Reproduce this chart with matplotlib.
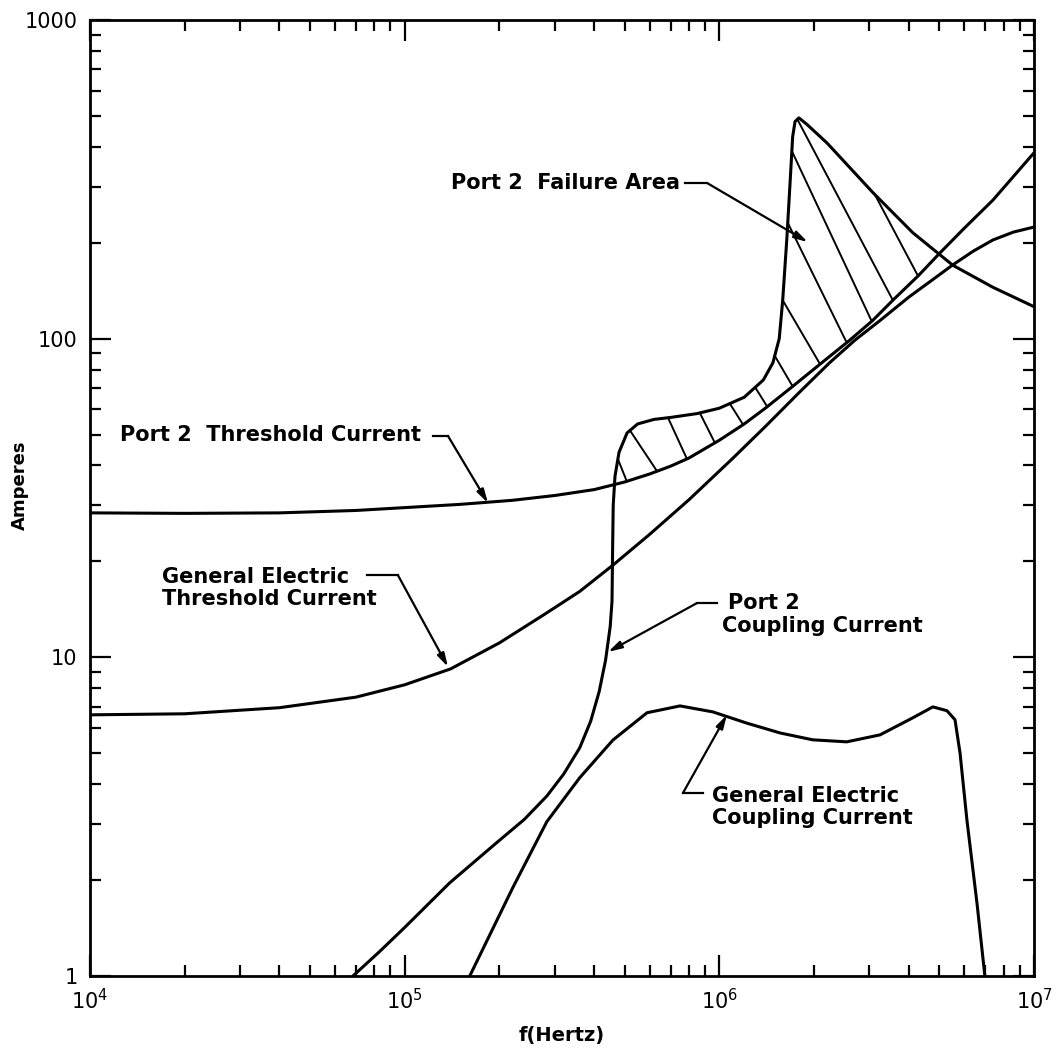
import matplotlib.pyplot as plt
import numpy as np

# Port 2 threshold current
p2_thr_f = [1e4, 2e4, 4e4, 7e4, 1e5, 1.5e5, 2.2e5, 3e5, 4e5, 5e5, 6e5, 7e5, 8e5, 1e6,
            1.2e6, 1.4e6, 1.7e6, 2.1e6, 2.6e6, 3.07e6, 3.56e6, 4.3e6, 5.03e6, 6e6, 7.4e6, 1e7]
p2_thr_a = [28.4, 28.3, 28.4, 28.9, 29.5, 30.2, 31.1, 32.2, 33.6, 35.5, 37.6, 39.8, 42.2, 48,
            54, 60.5, 70.5, 83.5, 99, 114, 132, 158, 186, 222, 272, 383]

# General Electric threshold current
ge_thr_f = [1e4, 2e4, 4e4, 7e4, 1e5, 1.4e5, 2e5, 2.8e5, 3.6e5, 4.6e5, 6e5, 8e5, 1.1e6,
            1.4e6, 1.8e6, 2.24e6, 2.7e6, 3.24e6, 4e6, 4.8e6, 5.5e6, 6.4e6, 7.4e6, 8.6e6, 1e7]
ge_thr_a = [6.6, 6.65, 6.95, 7.5, 8.2, 9.2, 11.1, 13.7, 16.1, 19.5, 24.3, 31.2, 42,
            53, 68, 84, 99, 114, 135, 154, 170, 188, 204, 216, 224]

# Port 2 coupling current
p2_cpl_f = [6.85e4, 8.3e4, 1e5, 1.39e5, 1.96e5, 2.4e5, 2.83e5, 3.2e5, 3.6e5, 3.9e5, 4.15e5,
            4.35e5, 4.5e5, 4.56e5, 4.58e5, 4.6e5, 4.66e5, 4.8e5, 5.09e5, 5.5e5, 6.2e5, 7e5,
            8.5e5, 1e6, 1.2e6, 1.38e6, 1.48e6, 1.55e6, 1.59e6, 1.64e6, 1.68e6, 1.71e6,
            1.74e6, 1.79e6, 1.9e6, 2.2e6, 3.08e6, 4.12e6, 5.52e6, 7.4e6, 1e7]
p2_cpl_a = [1.0, 1.19, 1.42, 1.96, 2.62, 3.1, 3.67, 4.3, 5.2, 6.3, 7.8,
            9.8, 12.5, 15, 22, 30, 37, 44, 50.6, 54, 55.8, 56.6,
            58.2, 60.5, 65.5, 74.2, 84, 100, 132, 208, 315, 430,
            480, 493, 470, 411, 287, 215, 170, 145, 126]

# General Electric coupling current
ge_cpl_f = [1.61e5, 2.21e5, 2.83e5, 3.6e5, 4.59e5, 5.89e5, 7.5e5, 9.55e5, 1.22e6, 1.56e6,
            1.98e6, 2.54e6, 3.24e6, 4.12e6, 4.77e6, 5.29e6, 5.61e6, 5.82e6, 6.12e6, 6.59e6, 6.98e6]
ge_cpl_a = [1.0, 1.9, 3.05, 4.19, 5.5, 6.7, 7.04, 6.74, 6.22, 5.79,
            5.51, 5.43, 5.71, 6.46, 6.99, 6.8, 6.37, 5.01, 3.09, 1.69, 1.0]

# failure-area hatch lines: start on the coupling curve, end on the threshold curve
hatch_top_f = [4.76e5, 5.2e5, 6.87e5, 8.67e5, 1.08e6, 1.30e6, 1.50e6, 1.59e6, 1.65e6, 1.70e6, 1.77e6, 3.12e6]
hatch_bot_f = [5.08e5, 6.34e5, 7.89e5, 9.68e5, 1.19e6, 1.42e6, 1.71e6, 2.09e6, 2.54e6, 3.05e6, 3.56e6, 4.28e6]

x_ticks = [1e4, 1e5, 1e6, 1e7]
x_tick_labels = ["$10^4$", "$10^5$", "$10^6$", "$10^7$"]
y_ticks = [1, 10, 100, 1000]
y_tick_labels = ["1", "10", "100", "1000"]


def on_curve(f, cf, ca):
    return 10 ** np.interp(np.log10(f), np.log10(cf), np.log10(ca))


fig = plt.figure(figsize=(10.64, 10.49), dpi=100)
ax = fig.add_axes([90 / 1064, 73 / 1049, 944 / 1064, 956 / 1049])

lw = 2.2
for cf, ca in [(p2_thr_f, p2_thr_a), (ge_thr_f, ge_thr_a),
               (p2_cpl_f, p2_cpl_a), (ge_cpl_f, ge_cpl_a)]:
    ax.plot(cf, ca, color="black", lw=lw, solid_capstyle="round", solid_joinstyle="round")

for ft, fb in zip(hatch_top_f, hatch_bot_f):
    at = on_curve(ft, p2_cpl_f, p2_cpl_a)
    ab = on_curve(fb, p2_thr_f, p2_thr_a)
    ax.plot([ft, fb], [at, ab], color="black", lw=1.4)

ax.set_xscale("log")
ax.set_yscale("log")
ax.set_xlim(1e4, 1e7)
ax.set_ylim(1, 1000)

ax.set_xticks(x_ticks)
ax.set_xticklabels(x_tick_labels)
ax.set_yticks(y_ticks)
ax.set_yticklabels(y_tick_labels)
ax.tick_params(which="both", direction="in", top=True, right=True, width=1.6)
ax.tick_params(which="major", length=15, labelsize=15, pad=9)
ax.tick_params(which="minor", length=8)
for s in ax.spines.values():
    s.set_linewidth(2)

fig.text(20 / 1064, 1 - 485 / 1049, "Amperes", rotation=90, ha="center", va="center",
         fontsize=13, fontweight="bold")
fig.text(562 / 1064, 1 - 1036 / 1049, "f(Hertz)", ha="center", va="center",
         fontsize=14, fontweight="bold")

txt = dict(fontsize=15, fontweight="bold", color="black")
arrow = dict(arrowstyle="-|>,head_width=0.22,head_length=0.8", color="black", lw=1.6,
             shrinkA=0, shrinkB=0)


def leader(text, text_xy, seg_start, elbow, tip, ha="right", va="center"):
    ax.text(text_xy[0], text_xy[1], text, ha=ha, va=va, linespacing=1.15, **txt)
    ax.plot([seg_start[0], elbow[0]], [seg_start[1], elbow[1]], color="black", lw=1.6)
    ax.annotate("", xy=tip, xytext=elbow, arrowprops=arrow)


leader("Port 2  Failure Area", (7.5e5, 308), (7.8e5, 308), (9.14e5, 308), (1.91e6, 201))
leader("Port 2  Threshold Current", (1.13e5, 50), (1.23e5, 49.5), (1.373e5, 49.5), (1.84e5, 30.5))
leader("General Electric\nThreshold Current", (1.69e4, 16.5), (7.59e4, 18.1), (9.52e4, 18.1),
       (1.373e5, 9.33), ha="left")
leader("Port 2", (1.065e6, 14.8), (9.83e5, 14.8), (8.49e5, 14.8), (4.43e5, 10.4), ha="left")
ax.text(1.019e6, 12.5, "Coupling Current", ha="left", va="center", **txt)
leader("General Electric\nCoupling Current", (9.47e5, 3.39), (8.87e5, 3.75), (7.66e5, 3.75),
       (1.057e6, 6.6), ha="left")

fig.savefig("out.png", dpi=100)
